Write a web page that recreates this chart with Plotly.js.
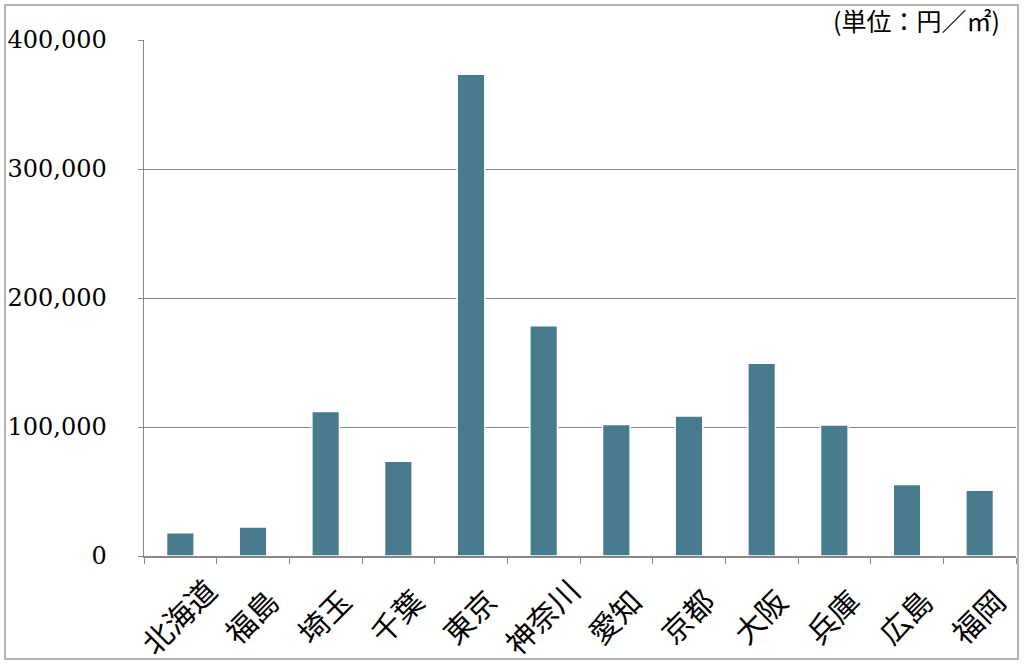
<!DOCTYPE html>
<html>
<head>
<meta charset="utf-8">
<script src="https://cdn.plot.ly/plotly-3.0.1.min.js"></script>
<style>html,body{margin:0;padding:0;background:#fff;}#chart{width:1024px;height:667px;}</style>
</head>
<body>
<div id="chart"></div>
<script>
const prefectures = ["北海道","福島","埼玉","千葉","東京","神奈川","愛知","京都","大阪","兵庫","広島","福岡"];
const pricePerSqm = [18000, 22500, 112000, 73500, 373500, 178500, 102000, 108500, 149500, 101500, 55500, 51000];
const yTickValues = [0, 100000, 200000, 300000, 400000];
const yTickLabels = ["0", "100,000", "200,000", "300,000", "400,000"];
const unitLabel = "(単位：円／㎡)";

// Labels are centre-anchored in the original; pad short ones so end-anchored text lines up the same way
const xTickLabels = prefectures.map(p => p.length === 2 ? p + "\u2002" : p);

const trace = {
  type: "bar",
  x: prefectures,
  y: pricePerSqm,
  marker: {color: "#497b8f", line: {color: "#ffffff", width: 1.5}},
  hoverinfo: "x+y"
};

const layout = {
  width: 1024, height: 667,
  margin: {l: 144, r: 8, t: 40, b: 111},
  paper_bgcolor: "#ffffff",
  plot_bgcolor: "#ffffff",
  showlegend: false,
  bargap: 0.62,
  xaxis: {
    type: "category",
    tickvals: prefectures,
    ticktext: xTickLabels,
    tickangle: -45,
    tickson: "boundaries",
    ticks: "outside",
    ticklen: 6,
    tickcolor: "#888888",
    showline: true,
    linecolor: "#888888",
    linewidth: 1.5,
    showgrid: false,
    ticklabelshift: 28,
    ticklabelstandoff: 4,
    tickfont: {family: "Noto Sans CJK JP", size: 30, color: "#000000"}
  },
  yaxis: {
    range: [0, 400000],
    tickvals: yTickValues,
    ticktext: yTickLabels,
    ticks: "outside",
    ticklen: 5,
    tickcolor: "#888888",
    showline: true,
    linecolor: "#888888",
    linewidth: 1.5,
    showgrid: true,
    gridcolor: "#8a8a8a",
    gridwidth: 1,
    zeroline: false,
    ticklabelstandoff: 26,
    tickfont: {family: "DejaVu Serif", size: 24, color: "#000000"}
  },
  annotations: [{
    xref: "paper", yref: "paper",
    x: 0.984, y: 1.039,
    text: unitLabel,
    showarrow: false,
    xanchor: "right", yanchor: "middle",
    font: {family: "Noto Sans CJK JP", size: 25, color: "#000000"}
  }],
  shapes: [{
    type: "rect", xref: "paper", yref: "paper",
    x0: -0.1594, x1: 1.0023, y0: -0.1996, y1: 1.0678,
    line: {color: "#b5b5b5", width: 2}, layer: "below"
  }]
};

Plotly.newPlot("chart", [trace], layout, {displayModeBar: false, staticPlot: true});
</script>
</body>
</html>
